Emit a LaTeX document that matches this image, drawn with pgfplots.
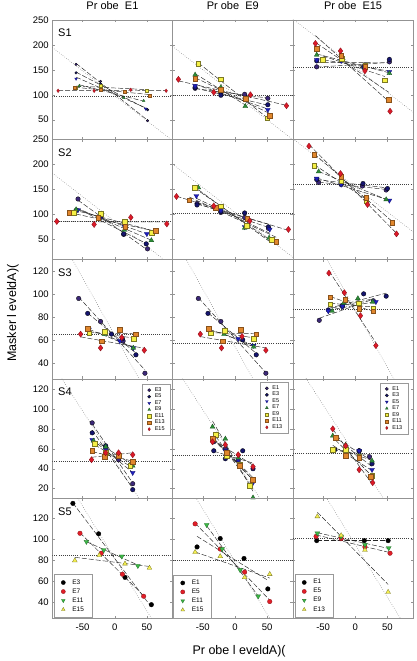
\documentclass[border=0pt]{standalone}
\usepackage{pgfplots}
\pgfplotsset{compat=1.18}
\usepackage{pgfplotstable}
\usepgfplotslibrary{groupplots}
\usepackage{fontspec}
\setmainfont{Liberation Sans}
\definecolor{cA}{RGB}{60,40,120}
\definecolor{cB}{RGB}{20,20,110}
\definecolor{cC}{RGB}{30,30,190}
\definecolor{cD}{RGB}{45,140,55}
\definecolor{cE}{RGB}{245,240,70}
\definecolor{cF}{RGB}{225,135,45}
\definecolor{cG}{RGB}{220,25,40}
\definecolor{kR}{RGB}{225,30,40}
\definecolor{kG}{RGB}{60,185,70}
\definecolor{kY}{RGB}{245,240,80}
\pgfplotsset{
 sA/.style={only marks, mark=*, mark size=2.3pt, mark options={fill=cA, draw=black, line width=0.3pt}},
 sB/.style={only marks, mark=*, mark size=2.3pt, mark options={fill=cB, draw=black, line width=0.3pt}},
 sC/.style={only marks, mark=triangle*, mark size=2.8pt, mark options={rotate=180, fill=cC, draw=cC!60!black, line width=0.3pt}},
 sD/.style={only marks, mark=triangle*, mark size=2.8pt, mark options={fill=cD, draw=cD!60!black, line width=0.3pt}},
 sE/.style={only marks, mark=square*, mark size=2.3pt, mark options={fill=cE, draw=cE!50!black, line width=0.3pt}},
 sF/.style={only marks, mark=square*, mark size=2.3pt, mark options={fill=cF, draw=cF!60!black, line width=0.3pt}},
 sG/.style={only marks, mark=diamond*, mark size=3.1pt, mark options={fill=cG, draw=cG!60!black, line width=0.3pt}},
 kK/.style={only marks, mark=*, mark size=2.3pt, mark options={fill=black, draw=black, line width=0.3pt}},
 kR/.style={only marks, mark=*, mark size=2.3pt, mark options={fill=kR, draw=kR!60!black, line width=0.3pt}},
 kN/.style={only marks, mark=triangle*, mark size=2.8pt, mark options={rotate=180, fill=kG, draw=kG!60!black, line width=0.3pt}},
 kY/.style={only marks, mark=triangle*, mark size=2.8pt, mark options={fill=kY, draw=kY!50!black, line width=0.3pt}},
 leg/.style={legend cell align=left,
   legend style={font=\fontsize{5.5}{6}\selectfont, draw=gray!80, line width=0.4pt, fill=white,
     inner xsep=5pt, inner ysep=2.5pt, row sep=-0.8pt, nodes={inner sep=1pt},
     /tikz/every odd column/.append style={column sep=3pt}},
   legend image code/.code={\draw[##1, mark size=1.6pt] plot coordinates {(0pt,0pt)};}},
 leg5/.style={legend cell align=left,
   legend style={font=\fontsize{6.5}{7}\selectfont, draw=gray!80, line width=0.4pt, fill=white,
     inner xsep=7pt, inner ysep=4pt, row sep=1pt, nodes={inner sep=1pt},
     /tikz/every odd column/.append style={column sep=6pt}},
   legend image code/.code={\draw[##1, mark size=2.1pt] plot coordinates {(0pt,0pt)};}},
 rowA/.style={ymin=10, ymax=250, ytick={50,100,150,200,250}},
 rowC/.style={ymin=26, ymax=130, ytick={40,60,80,100,120}},
 rowD/.style={ymin=10, ymax=130, ytick={20,40,60,80,100,120}},
 rowE/.style={ymin=25, ymax=139, ytick={40,60,80,100,120}},
 ttl/.style={title style={font=\fontsize{11}{12}\selectfont, yshift=1pt}},
}
\newcommand{\ser}[2]{%
 \addplot[black!85, line width=0.45pt, dash pattern=on 5pt off 2pt, no markers, forget plot] table[row sep=\\, y={create col/linear regression={y=y}}]{x y\\ #2};
 \addplot[#1] table[row sep=\\]{x y\\ #2};
}
\newcommand{\refl}[3]{%
 \addplot[black!75, line width=0.55pt, dash pattern=on 0.7pt off 1.4pt, forget plot] coordinates {(-97,#1) (90,#1)};
 \addplot[black!50, line width=0.5pt, dash pattern=on 0.6pt off 1.6pt, forget plot] coordinates {(-97,#2) (90,#3)};
}
\newcommand{\slab}[1]{\node[anchor=west, font=\fontsize{11}{12}\selectfont] at (rel axis cs:0.02,0.89) {#1};}
\begin{document}
\begin{tikzpicture}
\begin{groupplot}[group style={group size=3 by 5, horizontal sep=0pt, vertical sep=0pt,
   xticklabels at=edge bottom, yticklabels at=edge left, group name=G},
 scale only axis, width=120.3pt, height=119.66pt, xmin=-97, xmax=90, xtick={-50,0,50},
 axis line style={gray!85}, tick style={gray!85, line width=0.4pt}, tick align=inside, major tick length=2.5pt,
 ticklabel style={font=\fontsize{9.5}{10}\selectfont}, xticklabel style={yshift=-2.5pt},
 /pgf/number format/assume math mode=true]
%---------------- Row 1: S1
\nextgroupplot[rowA, ttl, title={Pr obe\ \ E1}]
\refl{98}{195}{8}
\ser{sA, mark size=1.3pt}{-60 161\\ -22 127\\ 51 48\\}
\ser{sB, mark size=1.3pt}{-60 144\\ -22 122\\ 51 70\\}
\ser{sC, mark size=1.6pt}{-60 132\\ -22 119\\ 48 72\\}
\ser{sD, mark size=1.6pt}{-55 118\\ -22 114\\ 14 94\\ 45 88\\}
\ser{sE, mark size=1.4pt}{-60 115\\ -22 119\\ 50 109\\}
\ser{sF, mark size=1.4pt}{-62 114\\ -22 111\\ 16 107\\ 54 99\\}
\ser{sG, mark size=1.8pt}{-88 108\\ -32 108\\ 25 110\\ 80 108\\}
\slab{S1}
\nextgroupplot[rowA, ttl, title={Pr obe\ \ E9}]
\refl{100}{197}{10}
\ser{sA}{-62 113\\ -22 104\\ 15 101\\ 51 93\\}
\ser{sB}{-62 115\\ -22 99\\ 51 80\\}
\ser{sC}{-62 118\\ -22 108\\ 51 70\\}
\ser{sD}{-62 140\\ -22 115\\ 16 77\\}
\ser{sE}{-57 162\\ -22 131\\ 50 53\\}
\ser{sF}{-62 132\\ -22 110\\ 17 92\\ 54 58\\}
\ser{sG}{-88 131\\ -33 105\\ 24 100\\ 80 78\\}
\nextgroupplot[rowA, ttl, title={Pr obe\ \ E15}]
\refl{156}{252}{65}
\ser{sA}{-60 156\\ 15 160\\ 53 166\\}
\ser{sB}{-60 168\\ 13 155\\ 53 171\\}
\ser{sC}{-60 170\\ -22 168\\ 53 146\\}
\ser{sD}{-60 180\\ -22 172\\ 53 143\\}
\ser{sE}{-51 171\\ -21 172\\ 15 158\\ 46 129\\}
\ser{sF}{-60 192\\ -22 178\\ 15 156\\ 52 90\\}
\ser{sG}{-62 203\\ -23 188\\ 15 148\\ 54 67\\}
%---------------- Row 2: S2
\nextgroupplot[rowA]
\refl{86}{183}{-4}
\ser{sA}{-57 131\\ -22 94\\ 14 60\\ 51 31\\}
\ser{sB}{-60 108\\ -22 98\\ 14 61\\ 49 41\\}
\ser{sC}{-57 109\\ -22 96\\ 15 76\\ 50 61\\}
\ser{sD}{-60 110\\ -22 99\\ 15 69\\ 57 48\\}
\ser{sE}{-64 104\\ -22 101\\ 15 86\\ 57 64\\}
\ser{sF}{-71 104\\ -26 93\\ 16 76\\ 64 68\\}
\ser{sG}{-90 86\\ -32 80\\ 25 94\\ 81 81\\}
\slab{S2}
\nextgroupplot[rowA]
\refl{103}{201}{14}
\ser{sA}{-59 122\\ -22 104\\ 15 94\\ 52 72\\}
\ser{sB}{-59 119\\ -22 106\\ 15 103\\ 52 75\\}
\ser{sC}{-60 137\\ -22 108\\ 15 75\\ 54 70\\}
\ser{sD}{-57 154\\ -22 115\\ 15 73\\ 53 53\\}
\ser{sE}{-63 154\\ -22 117\\ 18 77\\ 57 49\\}
\ser{sF}{-71 129\\ -30 114\\ 19 92\\ 64 46\\}
\ser{sG}{-91 136\\ -33 117\\ 23 87\\ 83 70\\}
\nextgroupplot[rowA]
\refl{161}{252}{65}
\ser{sA}{-57 164\\ -22 160\\ 11 157\\ 48 149\\}
\ser{sB}{-60 170\\ -22 162\\ 12 162\\ 50 152\\}
\ser{sC}{-60 172\\ -22 160\\ 53 128\\}
\ser{sD}{-57 186\\ -22 168\\ 48 130\\}
\ser{sE}{-64 198\\ -22 168\\ 17 128\\}
\ser{sF}{-64 220\\ -22 176\\ 17 134\\ 57 84\\}
\ser{sG}{-72 237\\ -23 182\\ 19 120\\ 64 61\\}
%---------------- Row 3: S3
\nextgroupplot[rowC, ylabel={Masker l eveldA)(},
  every axis y label/.style={at={(axis description cs:-0.327,0.55)}, rotate=90, anchor=center, font=\fontsize{12.5}{13}\selectfont}]
\refl{65}{161}{-26}
\ser{sA}{-56 96\\ -22 76\\ 13 59\\ 47 31\\}
\ser{sB}{-42 83\\ -5 65\\ 12 61\\ 33 47\\}
\ser{sC}{-40 69\\ 8 59\\ 29 53\\}
\ser{sD}{-16 65\\ 29 53\\}
\ser{sE}{-40 66\\ -16 67\\ 29 61\\}
\ser{sF}{-42 70\\ -20 59\\ 8 69\\ 33 65\\}
\ser{sG}{-53 65\\ -22 53\\ 11 62\\ 46 51\\}
\slab{S3}
\nextgroupplot[rowC]
\refl{57}{151}{-36}
\ser{sA}{-57 96\\ -22 76\\ 48 31\\}
\ser{sB}{-42 83\\ 12 60\\ 33 47\\}
\ser{sC}{-40 69\\ 5 61\\ 29 55\\}
\ser{sD}{-17 65\\ 29 54\\}
\ser{sE}{-38 66\\ -16 68\\ 29 61\\}
\ser{sF}{-41 70\\ -19 59\\ 9 69\\ 33 65\\}
\ser{sG}{-54 65\\ -21 53\\ 11 63\\ 48 51\\}
\nextgroupplot[rowC]
\refl{87}{183}{-4}
\ser{sA}{-56 77\\ -20 89\\ 28 94\\}
\ser{sB}{-42 86\\ -20 90\\ 13 100\\ 48 98\\}
\ser{sC}{-42 85\\ -20 89\\ 32 93\\}
\ser{sD}{-36 85\\ -18 92\\ 4 96\\ 27 93\\}
\ser{sE}{-39 91\\ 5 92\\ 28 87\\}
\ser{sF}{-39 97\\ -16 95\\ 6 87\\ 28 85\\}
\ser{sG}{-41 118\\ -17 101\\ 8 81\\ 32 55\\}
%---------------- Row 4: S4
\nextgroupplot[rowD, leg, legend style={at={(rel axis cs:0.985,0.96)}, anchor=north east},
  legend entries={E3,E5,E7,E9,E11,E13,E15}]
\refl{47}{145}{-42}
\ser{sA}{-35 86\\ -14 62\\ 6 49\\ 28 25\\}
\ser{sB}{-35 76\\ -14 63\\ 28 19\\}
\ser{sC}{-35 69\\ -14 59\\ 28 36\\}
\ser{sD}{-33 68\\ -14 62\\ 6 54\\ 28 43\\}
\ser{sE}{-31 65\\ -14 56\\ 24 43\\}
\ser{sF}{-35 58\\ -16 52\\ 6 53\\ 28 47\\}
\ser{sG}{-36 49\\ -14 56\\ 6 56\\ 28 54\\}
\slab{S4}
\nextgroupplot[rowD, leg, legend style={at={(rel axis cs:0.963,0.975)}, anchor=north east},
  legend entries={E1,E3,E5,E7,E9,E11,E13}]
\refl{53}{146}{-41}
\ser{sA}{-33 67\\ -15 60\\ 5 48\\ 28 29\\}
\ser{sB}{-33 58\\ -15 50\\ 12 58\\ 28 40\\}
\ser{sC}{-33 69\\ -15 58\\ 5 49\\ 28 26\\}
\ser{sD}{-35 82\\ -15 70\\ 5 51\\ 28 11\\}
\ser{sE}{-30 74\\ -13 53\\ 7 44\\ 23 23\\}
\ser{sF}{-35 70\\ -13 56\\ 7 43\\ 27 29\\}
\ser{sG}{-35 67\\ -15 64\\ 5 54\\ 28 42\\}
\nextgroupplot[rowD, leg, legend style={at={(rel axis cs:0.96,0.97)}, anchor=north east},
  legend entries={E1,E3,E5,E7,E9,E11,E13}]
\refl{55}{151}{-36}
\ser{sA}{-35 58\\ -15 57\\ 6 58\\ 22 52\\}
\ser{sB}{-32 59\\ -15 57\\ 6 58\\ 26 45\\}
\ser{sC}{-15 60\\ 6 58\\ 26 39\\}
\ser{sD}{-35 73\\ -15 64\\ 26 48\\}
\ser{sE}{-35 59\\ -15 59\\ 6 52\\ 26 33\\}
\ser{sF}{-31 71\\ -15 53\\ 6 51\\ 24 32\\}
\ser{sG}{-35 80\\ -15 63\\ 6 39\\ 27 26\\}
%---------------- Row 5: S5
\nextgroupplot[rowE, leg5, legend style={at={(rel axis cs:0.014,0.005)}, anchor=south west},
  legend entries={E3,E7,E11,E15}]
\refl{85}{179}{-8}
\ser{kK}{-65 134.5\\ -25 105.5\\ 16 64\\ 57 38\\}
\ser{kR}{-54 106\\ -21 87\\ 12 67\\ 45 46\\}
\ser{kN}{-44 98\\ -17 90\\ 11 84\\ 36 75\\}
\ser{kY}{-62 80\\ -24 85\\ 16 77\\ 54 73\\}
\slab{S5}
\nextgroupplot[rowE, leg5, legend style={at={(rel axis cs:0.007,0.002)}, anchor=south west},
  legend entries={E1,E5,E11,E15},
  xlabel={Pr obe l eveldA)(},
  every axis x label/.style={at={(axis description cs:0.553,-0.273)}, anchor=center, font=\fontsize{12.5}{13}\selectfont}]
\refl{80}{176}{-11}
\ser{kK}{-59 93\\ -23 101\\ 14 82\\ 51 53\\}
\ser{kR}{-62 115\\ -23 91\\ 15 69\\ 54 41\\}
\ser{kN}{-44 114\\ -20 91\\ 8 71\\ 36 46\\}
\ser{kY}{-62 88\\ -23 84\\ 15 64\\ 54 67\\}
\nextgroupplot[rowE, leg5, legend style={at={(rel axis cs:0.017,0.005)}, anchor=south west},
  legend entries={E1,E5,E9,E13}]
\refl{101}{192}{5}
\ser{kK}{-60 99\\ 14 99\\ 51 99\\}
\ser{kR}{-61 103\\ -22 101\\ 15 93\\ 54 87\\}
\ser{kN}{-59 106\\ -22 103\\ 15 95\\ 52 92\\}
\ser{kY}{-59 122\\ -22 104\\ 15 90\\ 51 50\\}
\end{groupplot}
\pgfresetboundingbox
\path (G c1r1.north west) ++(-52.3pt,20pt) rectangle ++(417pt,-661pt);
\end{tikzpicture}
\end{document}
